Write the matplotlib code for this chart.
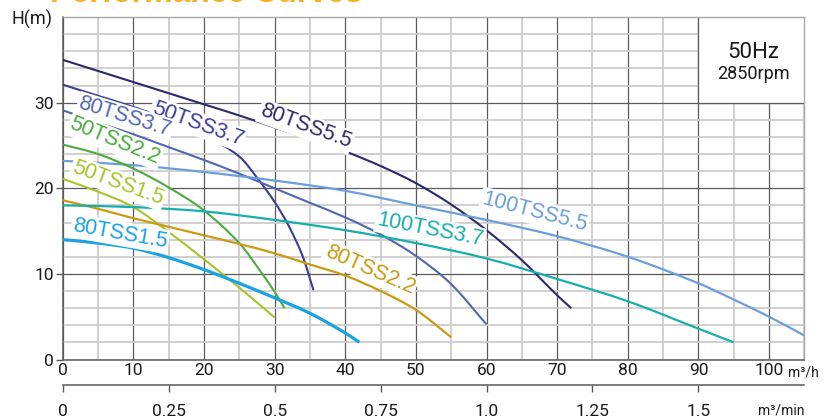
import matplotlib
matplotlib.use("Agg")
import matplotlib.pyplot as plt
from matplotlib.patches import Rectangle, PathPatch
from matplotlib.path import Path

# ---------------- data ----------------
q_80tss55 = [0, 5, 10, 15, 20, 25, 30, 35, 40, 45, 50, 55, 60, 65, 70, 72]
h_80tss55 = [35.0, 33.7, 32.4, 31.1, 29.8, 28.5, 27.1, 25.7, 24.3, 22.6, 20.6, 18.1, 15.1, 11.6, 7.5, 6.0]

q_50tss37 = [0, 5, 10, 15, 20, 25, 28, 30, 32, 34, 35.5]
h_50tss37 = [32.1, 30.8, 29.5, 28.0, 26.2, 23.7, 20.7, 18.4, 15.6, 12.0, 8.1]

q_80tss37 = [0, 5, 10, 15, 20, 25, 30, 35, 40, 45, 50, 55, 60]
h_80tss37 = [29.1, 27.7, 26.3, 24.8, 23.3, 21.7, 20.0, 18.3, 16.6, 14.6, 12.1, 8.8, 4.1]

q_100tss55 = [0, 10, 20, 30, 40, 50, 60, 70, 80, 90, 95, 100, 105]
h_100tss55 = [23.2, 22.7, 21.9, 20.9, 19.7, 18.0, 16.3, 14.4, 12.0, 8.9, 7.0, 5.0, 2.8]

q_50tss22 = [0, 5, 10, 15, 20, 25, 28, 30, 31.4]
h_50tss22 = [25.1, 24.0, 22.3, 20.1, 17.4, 13.6, 10.3, 7.9, 6.0]

q_50tss15 = [0, 5, 10, 15, 20, 25, 30]
h_50tss15 = [21.1, 19.6, 17.8, 14.9, 11.7, 8.4, 4.9]

q_80tss22 = [0, 5, 10, 15, 20, 25, 30, 35, 40, 45, 50, 55]
h_80tss22 = [18.6, 17.6, 16.5, 15.5, 14.5, 13.5, 12.4, 11.1, 9.8, 8.0, 5.8, 2.6]

q_100tss37 = [0, 10, 20, 30, 40, 50, 60, 70, 80, 90, 95]
h_100tss37 = [18.0, 17.8, 17.3, 16.3, 15.1, 13.6, 11.8, 9.4, 6.8, 3.6, 2.0]

q_80tss15 = [0, 5, 10, 15, 20, 25, 30, 35, 40, 42]
h_80tss15 = [14.0, 13.6, 13.0, 11.9, 10.5, 8.9, 7.2, 5.4, 3.1, 2.0]

curve_names = ["80TSS5.5", "50TSS3.7", "80TSS3.7", "100TSS5.5", "50TSS2.2",
               "50TSS1.5", "80TSS2.2", "100TSS3.7", "80TSS1.5"]
curve_q = [q_80tss55, q_50tss37, q_80tss37, q_100tss55, q_50tss22,
           q_50tss15, q_80tss22, q_100tss37, q_80tss15]
curve_h = [h_80tss55, h_50tss37, h_80tss37, h_100tss55, h_50tss22,
           h_50tss15, h_80tss22, h_100tss37, h_80tss15]
curve_colors = ["#2b2a6e", "#3b3f92", "#5068b0", "#6a9fdc", "#4bab3c",
                "#a8c42a", "#c99a12", "#17aeae", "#1aa3e3"]
curve_lw = [1.5, 1.5, 1.5, 1.6, 1.5, 1.5, 1.6, 1.6, 2.3]

# label anchor (Q, H) and rotation (deg)
label_q = [34.4, 19.1, 8.8, 66.8, 7.4, 7.8, 43.5, 52.0, 8.1]
label_h = [27.2, 27.5, 28.3, 17.2, 25.5, 20.6, 10.5, 15.1, 14.7]
label_rot = [-20, -20, -17, -14.5, -22, -20, -23.5, -11, -10]

x_ticks = [0, 10, 20, 30, 40, 50, 60, 70, 80, 90, 100]
y_ticks = [0, 10, 20, 30]
min_ticks = [0, 0.25, 0.5, 0.75, 1.0, 1.25, 1.5]
min_labels = ["0", "0.25", "0.5", "0.75", "1.0", "1.25", "1.5"]


def smooth_path(xs, ys):
    """Cubic Hermite path (as Bezier segments) through the read points."""
    n = len(xs)
    m = []
    for i in range(n):
        if i == 0:
            m.append((ys[1] - ys[0]) / (xs[1] - xs[0]))
        elif i == n - 1:
            m.append((ys[-1] - ys[-2]) / (xs[-1] - xs[-2]))
        else:
            m.append((ys[i + 1] - ys[i - 1]) / (xs[i + 1] - xs[i - 1]))
    verts = [(xs[0], ys[0])]
    codes = [Path.MOVETO]
    for i in range(n - 1):
        dx = xs[i + 1] - xs[i]
        verts += [(xs[i] + dx / 3, ys[i] + m[i] * dx / 3),
                  (xs[i + 1] - dx / 3, ys[i + 1] - m[i + 1] * dx / 3),
                  (xs[i + 1], ys[i + 1])]
        codes += [Path.CURVE4] * 3
    return Path(verts, codes)


# ---------------- figure ----------------
fig = plt.figure(figsize=(8.35, 4.19), dpi=100)
ax = fig.add_axes([0.0751, 0.1420, 0.8882, 0.8174])
ax.set_xlim(0, 105)
ax.set_ylim(0, 40)

TICKFONT = "Roboto"
MAJ = "#5a5a5a"
MIN = "#cdcdcd"

ax.set_xticks(x_ticks)
ax.set_xticklabels([str(v) for v in x_ticks], fontfamily=TICKFONT, fontsize=12.5, color="#1a1a1a")
ax.set_xticks([v + 5 for v in x_ticks], minor=True)
ax.set_yticks(y_ticks)
ax.set_yticklabels([str(v) for v in y_ticks], fontfamily=TICKFONT, fontsize=12.5, color="#1a1a1a")
ax.set_yticks([v for v in range(2, 40, 2) if v % 10 != 0], minor=True)

ax.tick_params(axis="x", which="major", length=0, pad=2.5)
ax.tick_params(axis="y", which="major", length=5, width=1.0, color=MAJ, pad=1.5)
ax.tick_params(which="minor", length=0)

ax.set_axisbelow(True)
ax.grid(which="major", color=MAJ, linewidth=0.9)
ax.grid(which="minor", color=MIN, linewidth=1.3)

for s in ["left", "bottom"]:
    ax.spines[s].set_color(MAJ)
    ax.spines[s].set_linewidth(1.1)
for s in ["top", "right"]:
    ax.spines[s].set_color("#a8a8a8")
    ax.spines[s].set_linewidth(1.0)

# inset box (50Hz / 2850rpm)
ax.add_patch(Rectangle((90, 30), 15, 10, facecolor="white", edgecolor="none", zorder=1.5))
ax.plot([90, 90], [30, 40], color=MAJ, lw=0.9, zorder=1.6)
ax.plot([90, 105], [30, 30], color=MAJ, lw=0.9, zorder=1.6)
ax.text(97.8, 35.8, "50Hz", ha="center", va="center", fontfamily=TICKFONT,
        fontsize=16, color="#1a1a1a", zorder=2)
ax.text(97.8, 33.3, "2850rpm", ha="center", va="center", fontfamily=TICKFONT,
        fontsize=13, color="#1a1a1a", zorder=2)

# curves
for q, h, c, lw in zip(curve_q, curve_h, curve_colors, curve_lw):
    ax.add_patch(PathPatch(smooth_path(q, h), facecolor="none", edgecolor=c,
                           lw=lw, zorder=3, capstyle="butt"))

# curve labels
for name, lq, lh, rot, c in zip(curve_names, label_q, label_h, label_rot, curve_colors):
    ax.text(lq, lh, name, rotation=rot, rotation_mode="anchor", ha="center", va="center",
            fontfamily="Liberation Sans", fontsize=15.5, color=c, zorder=5,
            bbox=dict(boxstyle="square,pad=0.08", facecolor="white", edgecolor="none"))

# secondary axis in m3/min
sec = ax.secondary_xaxis(-0.0745, functions=(lambda q: q / 60.0, lambda m: m * 60.0))
sec.set_xticks(min_ticks)
sec.set_xticklabels(min_labels, fontfamily=TICKFONT, fontsize=12.5, color="#1a1a1a")
sec.tick_params(length=5, width=1.0, color=MAJ, pad=8.5)
sec.spines["bottom"].set_color(MAJ)
sec.spines["bottom"].set_linewidth(1.1)

# unit labels
fig.text(803 / 835, 1 - 372 / 419, "m³/h", ha="center", va="center",
         fontfamily=TICKFONT, fontsize=10, color="#1a1a1a")
fig.text(781 / 835, 1 - 410 / 419, "m³/min", ha="center", va="center",
         fontfamily=TICKFONT, fontsize=10, color="#1a1a1a")
fig.text(32 / 835, 1 - 19 / 419, "H(m)", ha="center", va="center",
         fontfamily=TICKFONT, fontsize=13, color="#1a1a1a")

# title (cut off at the top in the reference, only its lowest strip shows)
fig.text(50 / 835, 1 - 1.8 / 419, "Performance Curves", ha="left", va="baseline",
         fontfamily="Liberation Sans", fontweight="bold", fontsize=23, color="#f6b21c")

fig.savefig("out.png", dpi=100)
